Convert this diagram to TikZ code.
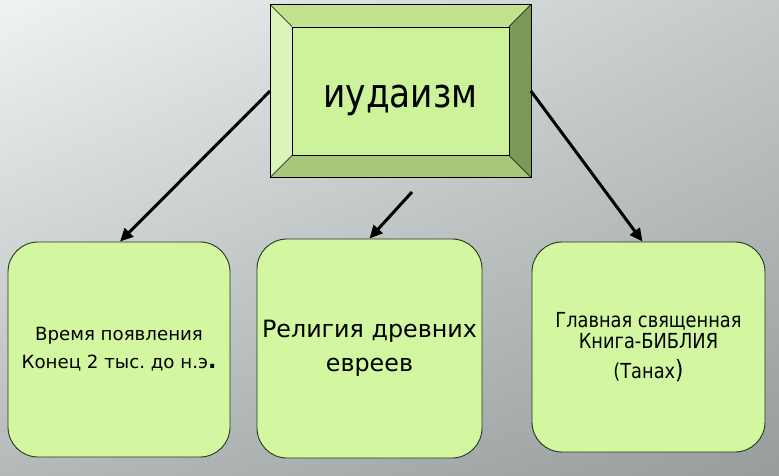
\documentclass[tikz,border=0pt]{standalone}
\usepackage{fontspec}
\setmainfont[FakeStretch=0.86]{DejaVu Sans}
\newfontfamily\widefont{DejaVu Sans}
\usetikzlibrary{positioning,arrows.meta,shadings}
\definecolor{boxfill}{HTML}{D2F7A0}
\definecolor{facefill}{HTML}{CCF29A}
\definecolor{bevtop}{HTML}{C3E28E}
\definecolor{bevleft}{HTML}{DDF3BC}
\definecolor{bevright}{HTML}{7B9A5A}
\definecolor{bevbottom}{HTML}{A7C77A}
\definecolor{edgecol}{HTML}{26341E}
\definecolor{bgul}{HTML}{EEF4F4}
\definecolor{bgur}{HTML}{C4C9C9}
\definecolor{bgll}{HTML}{B4BABA}
\definecolor{bglr}{HTML}{979C9C}
\frenchspacing

\begin{document}
\begin{tikzpicture}[x=1pt,y=-1pt,
	box/.style={draw=edgecol, fill=boxfill, line width=0.9pt, rounded corners=30pt, align=center, inner sep=0pt},
	arrow/.style={draw=black, line width=3pt, -{Triangle[length=13pt,width=12pt]}}]
	% background
	\shade[upper left=bgul, upper right=bgur, lower left=bgll, lower right=bglr] (0,0) rectangle (779,476);
	\useasboundingbox (0,0) rectangle (779,476);
	% top bevelled box
	\node[draw=black, line width=0.8pt, minimum width=260pt, minimum height=172pt, inner sep=0pt] (top) at (400.5,91) {};
	\fill[bevtop] (top.north west) -- (top.north east) -- ([shift={(-22,22)}]top.north east) -- ([shift={(22,22)}]top.north west) -- cycle;
	\fill[bevleft] (top.north west) -- ([shift={(22,22)}]top.north west) -- ([shift={(22,-22)}]top.south west) -- (top.south west) -- cycle;
	\fill[bevright] (top.north east) -- (top.south east) -- ([shift={(-22,-22)}]top.south east) -- ([shift={(-22,22)}]top.north east) -- cycle;
	\fill[bevbottom] (top.south west) -- ([shift={(22,-22)}]top.south west) -- ([shift={(-22,-22)}]top.south east) -- (top.south east) -- cycle;
	\draw[black, line width=0.8pt] (top.north west) rectangle (top.south east);
	\foreach \c/\s in {north west/{(22,22)}, north east/{(-22,22)}, south west/{(22,-22)}, south east/{(-22,-22)}}
		\draw[black, line width=0.5pt] (top.\c) -- ([shift=\s]top.\c);
	\node[draw=black, line width=0.8pt, fill=facefill, minimum width=217pt, minimum height=128pt, inner sep=0pt,
		text height=40pt, text depth=6pt, font=\fontsize{40}{40}\selectfont] (face) at (top) {иудаизм};
	% lower boxes
	\node[box, minimum width=222pt, minimum height=215pt, font=\widefont\fontsize{18.2}{28}\selectfont] (time) at (119,349.5)
		{Время появления\\Конец 2 тыс. до н.э{\fontsize{22}{28}\selectfont\bfseries .}};
	\node[box, minimum width=225pt, minimum height=219pt, font=\widefont\fontsize{23.8}{34}\selectfont] (people) at (369.5,348.5)
		{Религия древних\\евреев};
	\node[box, minimum width=233pt, minimum height=210pt, font=\fontsize{20.7}{21}\selectfont] (book) at (648.5,347)
		{Главная священная\\Книга-БИБЛИЯ\\[9pt](Танах{\fontsize{25}{29}\selectfont )}};
	% arrows
	\coordinate (mid) at (412,192);
	\draw[arrow] (top.west) -- ([xshift=1pt]time.north);
	\draw[arrow] (mid) -- (people.north);
	\draw[arrow] (top.east) -- ([xshift=-6pt]book.north);
\end{tikzpicture}
\end{document}
